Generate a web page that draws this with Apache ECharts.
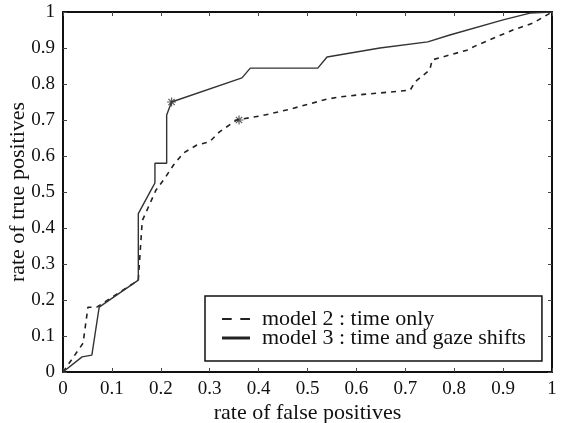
<!DOCTYPE html>
<html><head><meta charset="utf-8">
<script src="https://cdn.jsdelivr.net/npm/echarts@6/dist/echarts.min.js"></script>
<style>html,body{margin:0;padding:0;background:#fff}#c{width:562px;height:423px}</style>
</head><body><div id="c"></div>
<script>
const seriesNames = ['model 2 : time only', 'model 3 : time and gaze shifts'];
const model2X = [0, 0.041, 0.051, 0.069, 0.08, 0.154, 0.162, 0.19, 0.209, 0.226, 0.246, 0.273, 0.30, 0.32, 0.355, 0.41, 0.464, 0.54, 0.566, 0.62, 0.648, 0.71, 0.72, 0.75, 0.755, 0.826, 0.847, 0.88, 0.92, 0.961, 1];
const model2Y = [0, 0.08, 0.18, 0.18, 0.19, 0.255, 0.42, 0.505, 0.54, 0.575, 0.608, 0.63, 0.64, 0.667, 0.70, 0.713, 0.73, 0.758, 0.764, 0.772, 0.775, 0.783, 0.806, 0.839, 0.867, 0.894, 0.908, 0.927, 0.95, 0.969, 1];
const model3X = [0, 0.039, 0.059, 0.074, 0.154, 0.154, 0.18, 0.188, 0.188, 0.212, 0.212, 0.222, 0.366, 0.383, 0.521, 0.54, 0.648, 0.746, 0.791, 0.90, 0.955, 1];
const model3Y = [0, 0.042, 0.047, 0.18, 0.255, 0.44, 0.505, 0.525, 0.58, 0.58, 0.714, 0.75, 0.817, 0.844, 0.844, 0.875, 0.90, 0.917, 0.936, 0.978, 0.997, 1];
const starX = [0.222, 0.36];
const starY = [0.75, 0.70];
const xName = 'rate of false positives';
const yName = 'rate of true positives';

const font = "'Liberation Serif', 'Times New Roman', serif";
const zip = (a, b) => a.map((v, i) => [v, b[i]]);
const fmt = v => (v === 0 ? '0' : v === 1 ? '1' : String(v));
const star = 'path://M0,-5L0,5M-5,0L5,0M-3.5,-3.5L3.5,3.5M-3.5,3.5L3.5,-3.5';
const dashIcon = 'path://M0,4h9v2h-9zM17,4h9v2h-9z';
const solidIcon = 'path://M0,3.5h28v3h-28z';

const chart = echarts.init(document.getElementById('c'), null, {renderer: 'canvas'});
const axisCommon = {
  type: 'value', min: 0, max: 1, interval: 0.1,
  splitLine: {show: false},
  axisLine: {show: true, onZero: false, lineStyle: {color: '#111', width: 2}},
  axisTick: {show: true, inside: true, length: 4, lineStyle: {color: '#444'}},
};
chart.setOption({
  animation: false,
  backgroundColor: '#fff',
  grid: {left: 63, right: 10, top: 12, bottom: 51, show: false, containLabel: false, outerBoundsMode: 'none'},
  legend: {
    orient: 'vertical', left: 205, top: 296,
    data: [{name: seriesNames[0], icon: dashIcon}, {name: seriesNames[1], icon: solidIcon}],
    borderColor: '#111', borderWidth: 1.5, borderRadius: 0,
    padding: [12, 16, 12, 17], itemGap: -3, itemWidth: 28, itemHeight: 10,
    textStyle: {fontFamily: font, fontSize: 22, color: '#111', padding: [0, 0, 0, 7]}
  },
  xAxis: [
    Object.assign({}, axisCommon, {
      position: 'bottom', name: xName, nameLocation: 'middle', nameGap: 30, nameMoveOverlap: false,
      nameTextStyle: {fontFamily: font, fontSize: 22, color: '#111'},
      axisLabel: {fontFamily: font, fontSize: 19, color: '#111', margin: 8, formatter: fmt}
    }),
    Object.assign({}, axisCommon, {position: 'top', axisLabel: {show: false}})
  ],
  yAxis: [
    Object.assign({}, axisCommon, {
      position: 'left', name: yName, nameLocation: 'middle', nameGap: 34, nameMoveOverlap: false,
      nameTextStyle: {fontFamily: font, fontSize: 22, color: '#111'},
      axisLabel: {fontFamily: font, fontSize: 19, color: '#111', margin: 8, formatter: fmt}
    }),
    Object.assign({}, axisCommon, {position: 'right', axisLabel: {show: false}})
  ],
  series: [
    {name: seriesNames[0], type: 'line', data: zip(model2X, model2Y), showSymbol: false, symbol: 'none',
     lineStyle: {color: '#222', width: 1.6, type: [5, 5]}, itemStyle: {color: '#222'}},
    {name: seriesNames[1], type: 'line', data: zip(model3X, model3Y), showSymbol: false, symbol: 'none',
     lineStyle: {color: '#333', width: 1.4}, itemStyle: {color: '#222'}},
    {type: 'scatter', data: zip(starX, starY), symbol: star, symbolSize: 9,
     itemStyle: {color: 'none', borderColor: '#333', borderWidth: 1.2}, silent: true}
  ]
});
</script></body></html>
